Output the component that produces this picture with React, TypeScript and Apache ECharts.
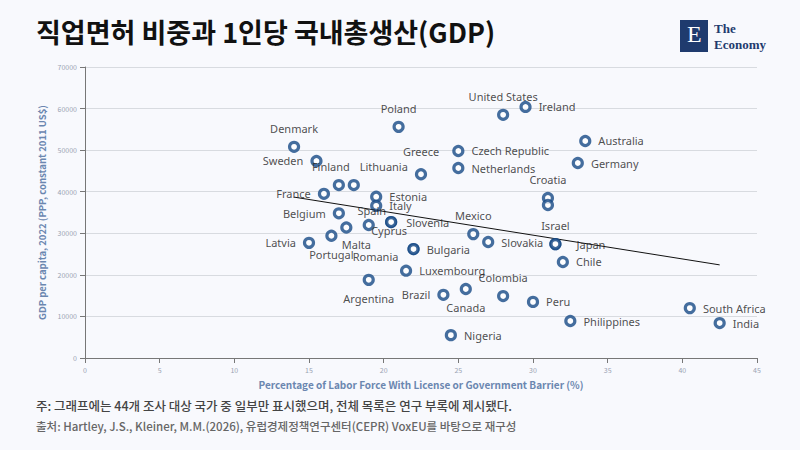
import React, { useEffect, useRef } from "react";
import * as echarts from "echarts";

const countries = [
  "Denmark", "Sweden", "Finland", "Lithuania", "Poland", "France", "Estonia", "Italy",
  "Belgium", "Malta", "Spain", "Cyprus", "Slovenia", "Portugal", "Latvia", "Romania",
  "Bulgaria", "Luxembourg", "Argentina", "Brazil", "Canada", "Nigeria", "Greece",
  "Czech Republic", "Netherlands", "United States", "Ireland", "Mexico", "Slovakia",
  "Colombia", "Peru", "Philippines", "Croatia", "", "Israel", "Japan", "Chile",
  "Australia", "Germany", "South Africa", "India",
];
const barrierPct = [
  14.0, 15.5, 17.0, 18.0, 21.0, 16.0, 19.5, 19.5,
  17.0, 17.5, 19.0, 20.5, 20.5, 16.5, 15.0, 22.0,
  22.0, 21.5, 19.0, 24.0, 25.5, 24.5, 22.5,
  25.0, 25.0, 28.0, 29.5, 26.0, 27.0,
  28.0, 30.0, 32.5, 31.0, 31.0, 31.5, 31.5, 32.0,
  33.5, 33.0, 40.5, 42.5,
];
const gdpPerCapita = [
  50800, 47400, 41600, 41600, 55600, 39500, 38800, 36600,
  34800, 31400, 32000, 32700, 32700, 29400, 27700, 26200,
  26200, 21000, 18800, 15200, 16600, 5500, 44200,
  49800, 45700, 58500, 60400, 29800, 27900,
  14900, 13500, 8900, 38500, 36800, 27400, 27400, 23100,
  52200, 46900, 12000, 8400,
];
const labelPos = [
  "top", "left", "top", "top", "top", "left", "right", "right",
  "left", "bottom", "top", "bottom", "right", "bottom", "left", "left",
  "right", "right", "bottom", "left", "bottom", "right", "top",
  "right", "right", "top", "right", "top", "right",
  "top", "right", "right", "top", "", "top", "right", "right",
  "right", "right", "right", "right",
];
const labelOffset: Record<string, number[]> = {
  Finland: [-8, 0],
  Lithuania: [30, 0],
  Spain: [3, 4],
  Cyprus: [-2, -10],
  Slovenia: [2, 0],
  Malta: [10, -2],
  Romania: [-2, 7],
  Japan: [8, 0],
  Greece: [0, -4],
};

const App: React.FC = () => {
  const ref = useRef<HTMLDivElement>(null);

  useEffect(() => {
    if (!ref.current) return;
    const chart = echarts.init(ref.current, undefined, { renderer: "svg" });
    const points = countries.map((name, i) => ({
      name,
      value: [barrierPct[i], gdpPerCapita[i]],
      label: {
        show: name !== "",
        position: (labelPos[i] || "right") as any,
        distance: 7,
        offset: labelOffset[name] || [0, 0],
      },
    }));

    chart.setOption({
      animation: false,
      backgroundColor: "#f8f9fd",
      textStyle: { fontFamily: "Noto Sans CJK KR" },
      grid: { left: 85, right: 43, top: 67, bottom: 92 },
      xAxis: {
        type: "value",
        min: 0,
        max: 45,
        interval: 5,
        name: "Percentage of Labor Force With License or Government Barrier (%)",
        nameLocation: "middle",
        nameGap: 21,
        nameTextStyle: { color: "#6b87b0", fontSize: 10, fontWeight: "bold" },
        axisLine: { lineStyle: { color: "#777" } },
        axisTick: { show: true, lineStyle: { color: "#777" } },
        axisLabel: { color: "#9aa3b3", fontSize: 7 },
        splitLine: { show: false },
      },
      yAxis: {
        type: "value",
        min: 0,
        max: 70000,
        interval: 10000,
        name: "GDP per capita, 2022 (PPP, constant 2011 US$)",
        nameLocation: "middle",
        nameGap: 36,
        nameTextStyle: { color: "#6b87b0", fontSize: 9.5, fontWeight: "bold" },
        axisLine: { show: true, lineStyle: { color: "#777" } },
        axisTick: { show: true, lineStyle: { color: "#777" } },
        axisLabel: { color: "#9aa3b3", fontSize: 7, formatter: (v: number) => String(v) },
        splitLine: { lineStyle: { color: "#d8dbe0" } },
      },
      series: [
        {
          type: "scatter",
          data: points,
          symbol: "circle",
          symbolSize: 9,
          itemStyle: { color: "#ffffff", borderColor: "#174a86", borderWidth: 3.2 },
          label: {
            formatter: "{b}",
            color: "#222",
            fontSize: 11,
            fontFamily: "Noto Sans",
          },
          z: 3,
        },
        {
          type: "line",
          data: [[14, 38700], [42.5, 22400]],
          symbol: "none",
          lineStyle: { color: "#111", width: 1 },
          z: 2,
        },
      ],
      graphic: [
        {
          type: "text",
          left: 36,
          top: 18,
          style: { text: "직업면허 비중과 1인당 국내총생산(GDP)", fontSize: 27, fontWeight: "bold", fill: "#111", fontFamily: "Noto Sans CJK KR" },
        },
        { type: "rect", left: 680, top: 20, shape: { width: 28, height: 32 }, style: { fill: "#1f3b6e" } },
        {
          type: "text",
          left: 687,
          top: 22,
          style: { text: "E", fontSize: 24, fill: "#fff", fontFamily: "Liberation Serif" },
        },
        {
          type: "text",
          left: 714,
          top: 20,
          style: { text: "The\nEconomy", fontSize: 13, lineHeight: 16, fill: "#1f3b6e", fontFamily: "Liberation Serif", fontWeight: "bold" },
        },
        {
          type: "text",
          left: 36,
          top: 399,
          style: { text: "주: 그래프에는 44개 조사 대상 국가 중 일부만 표시했으며, 전체 목록은 연구 부록에 제시됐다.", fontSize: 12.5, fontWeight: 500, fill: "#444", fontFamily: "Noto Sans CJK KR" },
        },
        {
          type: "text",
          left: 36,
          top: 420,
          style: { text: "출처: Hartley, J.S., Kleiner, M.M.(2026), 유럽경제정책연구센터(CEPR) VoxEU를 바탕으로 재구성", fontSize: 11.5, fontWeight: 500, fill: "#666", fontFamily: "Noto Sans CJK KR" },
        },
      ],
    });

    return () => chart.dispose();
  }, []);

  return <div ref={ref} style={{ position: "fixed", left: 0, top: 0, width: 800, height: 450 }} />;
};

export default App;
